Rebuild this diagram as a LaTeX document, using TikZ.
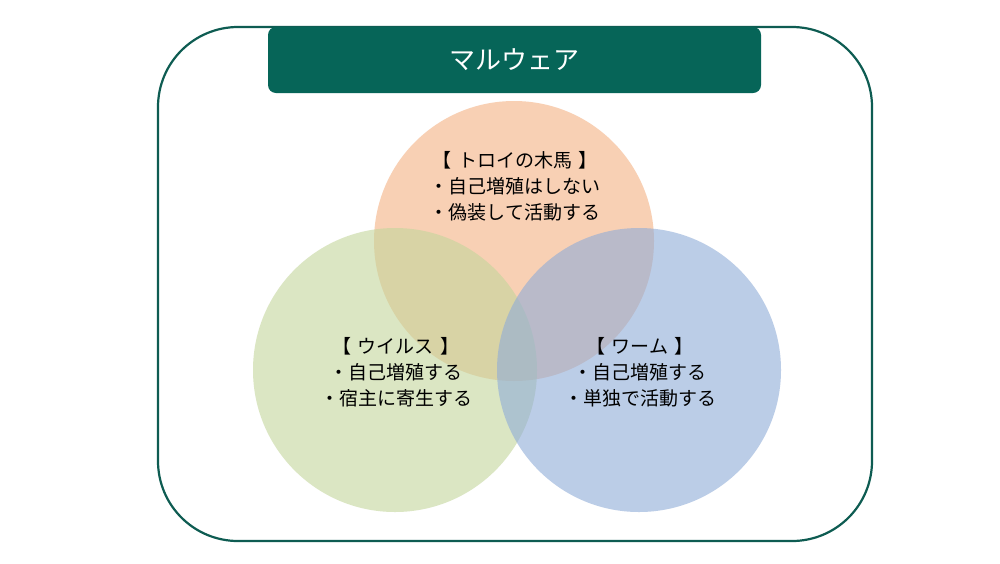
\documentclass[tikz,border=0pt]{standalone}
\usepackage{fontspec}
\setmainfont{Noto Sans CJK JP}
\definecolor{frameC}{HTML}{0E5C52}
\definecolor{titleC}{HTML}{066558}
\definecolor{orangeC}{HTML}{F4B183}
\definecolor{greenC}{HTML}{C3D69B}
\definecolor{blueC}{HTML}{8FACD8}
\newcommand{\bsp}{\hspace{0.35em}}
\begin{document}
\begin{tikzpicture}[x=1pt,y=-1pt,
  frame/.style={draw=frameC,line width=2.2pt,rounded corners=80pt},
  titlebar/.style={fill=titleC,rounded corners=8pt},
  venn/.style={fill opacity=0.6},
  lbl/.style={align=center,text=black,font=\fontsize{19}{26}\selectfont,inner sep=0pt},
  ttl/.style={text=white,font=\fontsize{26}{30}\selectfont,inner sep=0pt}]
\useasboundingbox (0,0) rectangle (1000,563);
\fill[white] (0,0) rectangle (1000,563);
\draw[frame] (158,27) rectangle (872,541);
\fill[titlebar] (268,27) rectangle (761,93);
\node[ttl] (title) at (514.5,60) {マルウェア};
\fill[venn,orangeC] (514,241) circle (140);
\fill[venn,greenC] (395,370) circle (142);
\fill[venn,blueC] (639,370) circle (142);
\node[lbl] (trojan) at (515,186) {【\bsp トロイの木馬\bsp 】\\・自己増殖はしない\\・偽装して活動する};
\node[lbl] (virus) at (396,372) {【\bsp ウイルス\bsp 】\\・自己増殖する\\・宿主に寄生する};
\node[lbl] (worm) at (640,372) {【\bsp ワーム\bsp 】\\・自己増殖する\\・単独で活動する};
\end{tikzpicture}
\end{document}
